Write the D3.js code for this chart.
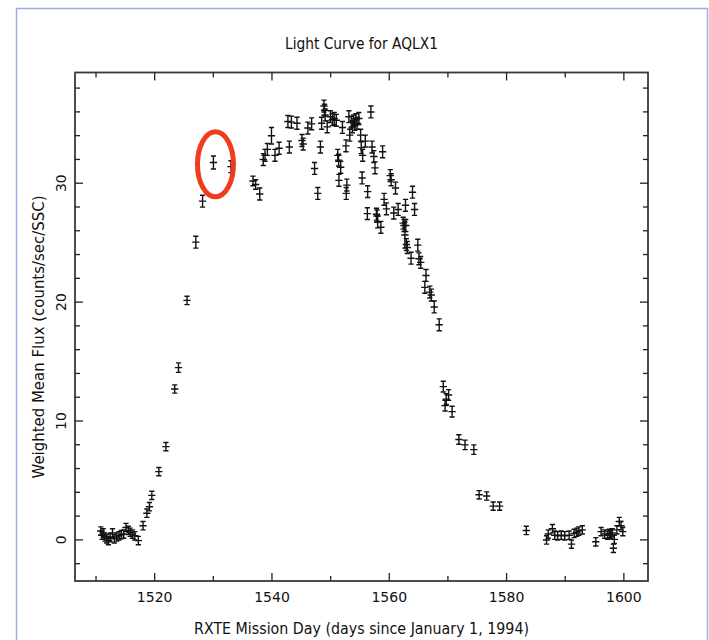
<!DOCTYPE html>
<html>
<head>
<meta charset="utf-8">
<script src="https://cdn.jsdelivr.net/npm/d3@7"></script>
<style>
  html, body { margin: 0; padding: 0; background: #fff; }
  svg { display: block; }
  text { font-family: "DejaVu Sans", "Liberation Sans", sans-serif; fill: #111; }
</style>
</head>
<body>
<svg id="chart" width="709" height="640"></svg>
<script>
// Aql X-1 outburst, RXTE/ASM daily light curve
const days = [
  1510.9, 1511.1, 1511.3, 1511.6, 1511.9, 1512.2, 1512.5, 1512.9, 1513.2, 1513.6,
  1514.0, 1514.4, 1514.8, 1515.2, 1515.6, 1515.9, 1516.3, 1516.7, 1517.3, 1518.1,
  1518.75, 1519.2, 1519.6, 1520.8, 1522.0, 1523.5, 1524.15, 1525.6, 1527.1, 1528.25,
  1530.1, 1533.1, 1536.85, 1537.3, 1538.0, 1538.6, 1538.9, 1539.3, 1540.0, 1540.6,
  1541.3, 1542.8, 1543.05, 1543.4, 1544.35, 1545.2, 1545.4, 1546.2, 1546.85, 1547.35,
  1547.9, 1548.35, 1548.55, 1548.95, 1549.05, 1549.15, 1549.5, 1550.05, 1550.4, 1550.7,
  1551.05, 1551.3, 1551.45, 1551.5, 1551.8, 1552.1, 1552.7, 1552.85, 1552.75, 1553.2,
  1553.35, 1553.6, 1553.8, 1554.0, 1554.2, 1554.4, 1554.6, 1554.9, 1555.2, 1555.3,
  1555.45, 1555.55, 1556.0, 1556.4, 1556.95, 1557.15, 1557.45, 1557.65, 1556.35, 1557.9,
  1558.0, 1558.1, 1558.65, 1558.95, 1559.2, 1559.6, 1560.25, 1560.4, 1560.85, 1561.15,
  1561.6, 1562.45, 1562.75, 1562.6, 1562.9, 1562.85, 1563.0, 1563.15, 1563.8, 1564.05,
  1564.4, 1564.95, 1565.15, 1565.45, 1566.35, 1566.15, 1567.0, 1567.25, 1567.75, 1568.6,
  1569.3, 1570.2, 1569.8, 1569.6, 1570.8, 1571.95, 1573.0, 1574.5, 1575.4, 1576.7,
  1577.8, 1578.9, 1583.45, 1586.9, 1587.2, 1587.9, 1588.3, 1588.8, 1589.4, 1590.0,
  1590.75, 1591.15, 1591.6, 1592.05, 1592.4, 1593.0, 1595.3, 1596.2, 1596.8, 1597.3,
  1597.6, 1597.85, 1598.1, 1598.3, 1598.45, 1598.9, 1599.3, 1599.6, 1599.9
];
const flux = [
  0.7, 0.35, 0.55, 0.2, 0.05, -0.1, 0.15, 0.55, 0.05, 0.2,
  0.3, 0.4, 0.45, 1.0, 0.75, 0.6, 0.45, 0.3, -0.1, 1.15,
  2.2, 2.75, 3.7, 5.7, 7.8, 12.65, 14.45, 20.1, 25.0, 28.45,
  31.7, 31.35, 30.15, 29.85, 29.05, 31.95, 32.3, 32.8, 33.95, 32.3,
  32.9, 35.15, 33.0, 35.1, 35.0, 33.55, 33.25, 34.6, 34.95, 31.2,
  29.1, 33.0, 35.0, 36.45, 36.1, 35.7, 34.7, 35.55, 35.3, 35.4,
  35.25, 32.3, 31.9, 30.2, 31.3, 34.65, 33.1, 29.8, 29.1, 35.55,
  34.0, 35.1, 34.7, 35.2, 34.9, 35.3, 35.0, 35.4, 34.0, 32.95,
  30.4, 32.3, 33.5, 29.25, 35.95, 33.0, 32.2, 31.25, 27.4, 27.35,
  27.2, 26.7, 26.25, 32.6, 28.6, 27.8, 30.6, 30.25, 27.45, 29.55,
  27.75, 26.6, 25.6, 26.4, 26.4, 28.1, 24.8, 24.55, 23.65, 29.2,
  27.75, 24.75, 23.6, 23.3, 22.2, 21.2, 20.8, 20.55, 19.55, 18.05,
  12.85, 12.15, 11.8, 11.25, 10.75, 8.4, 7.95, 7.55, 3.75, 3.65,
  2.8, 2.8, 0.75, -0.05, 0.45, 0.9, 0.35, 0.3, 0.35, 0.3,
  0.35, -0.4, 0.5, 0.6, 0.7, 0.8, -0.2, 0.65, 0.45, 0.35,
  0.5, 0.4, 0.55, -0.75, 0.0, 0.8, 1.5, 1.15, 0.65
];
const fluxErr = [
  0.35, 0.35, 0.35, 0.35, 0.35, 0.35, 0.35, 0.35, 0.35, 0.35,
  0.35, 0.35, 0.35, 0.35, 0.35, 0.35, 0.35, 0.35, 0.35, 0.35,
  0.35, 0.35, 0.35, 0.35, 0.35, 0.35, 0.4, 0.35, 0.5, 0.5,
  0.55, 0.5, 0.4, 0.4, 0.5, 0.5, 0.5, 0.5, 0.7, 0.5,
  0.5, 0.5, 0.5, 0.5, 0.5, 0.5, 0.5, 0.5, 0.5, 0.5,
  0.5, 0.5, 0.5, 0.5, 0.5, 0.5, 0.5, 0.5, 0.5, 0.5,
  0.5, 0.5, 0.5, 0.5, 0.5, 0.5, 0.5, 0.5, 0.5, 0.5,
  0.5, 0.5, 0.5, 0.5, 0.5, 0.5, 0.5, 0.5, 0.5, 0.5,
  0.5, 0.5, 0.5, 0.5, 0.5, 0.5, 0.5, 0.5, 0.5, 0.5,
  0.5, 0.5, 0.5, 0.5, 0.5, 0.5, 0.5, 0.5, 0.5, 0.5,
  0.5, 0.5, 1.1, 0.5, 0.5, 0.5, 0.5, 0.5, 0.5, 0.5,
  0.5, 0.5, 0.5, 0.5, 0.5, 0.5, 0.5, 0.5, 0.5, 0.5,
  0.45, 0.45, 0.45, 0.45, 0.45, 0.4, 0.4, 0.4, 0.35, 0.35,
  0.35, 0.35, 0.35, 0.35, 0.35, 0.35, 0.35, 0.35, 0.35, 0.35,
  0.35, 0.35, 0.35, 0.35, 0.35, 0.35, 0.35, 0.35, 0.35, 0.35,
  0.35, 0.35, 0.35, 0.35, 0.35, 0.35, 0.35, 0.35, 0.35
];
const binHalfWidth = 0.62;          // days, half width of each time bin

const xMajorTicks = [1520, 1540, 1560, 1580, 1600];
const xMinorTicks = [1510, 1530, 1550, 1570, 1590];
const yMajorTicks = [0, 10, 20, 30];
const yMinorTicks = [-2, 2, 4, 6, 8, 12, 14, 16, 18, 22, 24, 26, 28, 32, 34, 36, 38];

const xDomain = [1506.5, 1604.2];
const yDomain = [-3.5, 39.27];

const titleText = "Light Curve for AQLX1";
const xLabel = "RXTE Mission Day (days since January 1, 1994)";
const yLabel = "Weighted Mean Flux (counts/sec/SSC)";

// highlighted measurement
const markedDay = 1530.45, markedFlux = 31.55;

const svg = d3.select("#chart");

// page frame
svg.append("rect")
  .attr("x", 16.5).attr("y", 8.5)
  .attr("width", 691).attr("height", 660)
  .attr("fill", "#fff")
  .attr("stroke", "#9aabea").attr("stroke-width", 1.5);

const box = { left: 75, right: 648, top: 72.5, bottom: 581 };

const x = d3.scaleLinear().domain(xDomain).range([box.left, box.right]);
const y = d3.scaleLinear().domain(yDomain).range([box.bottom, box.top]);

const axisColor = "#222";

function styleAxis(g) {
  g.select(".domain").remove();
  g.selectAll(".tick line").attr("stroke", axisColor).attr("stroke-width", 1.3);
}

// frame of the plot area
svg.append("rect")
  .attr("x", box.left).attr("y", box.top)
  .attr("width", box.right - box.left).attr("height", box.bottom - box.top)
  .attr("fill", "none").attr("stroke", "#3a3a3a").attr("stroke-width", 1.8);

// bottom axis
const gBottom = svg.append("g").attr("transform", `translate(0,${box.bottom})`)
  .call(d3.axisBottom(x).tickValues(xMajorTicks).tickSizeInner(-8).tickSizeOuter(0)
    .tickPadding(11).tickFormat(d3.format("d")));
styleAxis(gBottom);
gBottom.selectAll(".tick text").attr("font-size", 14).attr("fill", "#111")
  .style("font-family", "'DejaVu Sans', sans-serif");
svg.append("g").attr("transform", `translate(0,${box.bottom})`)
  .call(d3.axisBottom(x).tickValues(xMinorTicks).tickSizeInner(-5).tickSizeOuter(0).tickFormat(""))
  .call(styleAxis);

// top axis (ticks only)
svg.append("g").attr("transform", `translate(0,${box.top})`)
  .call(d3.axisTop(x).tickValues(xMajorTicks).tickSizeInner(-8).tickSizeOuter(0).tickFormat(""))
  .call(styleAxis);
svg.append("g").attr("transform", `translate(0,${box.top})`)
  .call(d3.axisTop(x).tickValues(xMinorTicks).tickSizeInner(-5).tickSizeOuter(0).tickFormat(""))
  .call(styleAxis);

// left axis with vertical labels
const gLeft = svg.append("g").attr("transform", `translate(${box.left},0)`)
  .call(d3.axisLeft(y).tickValues(yMajorTicks).tickSizeInner(-8).tickSizeOuter(0)
    .tickFormat(d3.format("d")));
styleAxis(gLeft);
gLeft.selectAll(".tick text")
  .attr("transform", "rotate(-90)")
  .attr("x", 0).attr("y", -9).attr("dy", 0)
  .attr("text-anchor", "middle")
  .attr("font-size", 14).attr("fill", "#111");
svg.append("g").attr("transform", `translate(${box.left},0)`)
  .call(d3.axisLeft(y).tickValues(yMinorTicks).tickSizeInner(-5).tickSizeOuter(0).tickFormat(""))
  .call(styleAxis);

// right axis (ticks only)
svg.append("g").attr("transform", `translate(${box.right},0)`)
  .call(d3.axisRight(y).tickValues(yMajorTicks).tickSizeInner(-8).tickSizeOuter(0).tickFormat(""))
  .call(styleAxis);
svg.append("g").attr("transform", `translate(${box.right},0)`)
  .call(d3.axisRight(y).tickValues(yMinorTicks).tickSizeInner(-5).tickSizeOuter(0).tickFormat(""))
  .call(styleAxis);

// data with error bars
const points = days.map((d, i) => ({ day: d, flux: flux[i], err: fluxErr[i] }));
const capHalf = 2.6;
svg.append("g").attr("class", "points")
  .selectAll("path").data(points).join("path")
  .attr("d", p => {
    const cx = x(p.day), cy = y(p.flux);
    const x0 = x(p.day - binHalfWidth), x1 = x(p.day + binHalfWidth);
    const yt = y(p.flux + p.err), yb = y(p.flux - p.err);
    return `M${x0},${cy}H${x1}` +
           `M${cx},${yt}V${yb}` +
           `M${cx - capHalf},${yt}H${cx + capHalf}` +
           `M${cx - capHalf},${yb}H${cx + capHalf}`;
  })
  .attr("fill", "none")
  .attr("stroke", "#111")
  .attr("stroke-width", 1.4);

// highlight ring
svg.append("ellipse")
  .attr("cx", x(markedDay)).attr("cy", y(markedFlux))
  .attr("rx", 18).attr("ry", 32.5)
  .attr("fill", "none")
  .attr("stroke", "#f03c1e").attr("stroke-width", 5);

// titles
svg.append("text")
  .attr("x", 361.5).attr("y", 49)
  .attr("text-anchor", "middle")
  .attr("font-size", 15)
  .attr("textLength", 153).attr("lengthAdjust", "spacingAndGlyphs")
  .text(titleText);

svg.append("text")
  .attr("x", 361.5).attr("y", 634)
  .attr("text-anchor", "middle")
  .attr("font-size", 15)
  .attr("textLength", 335).attr("lengthAdjust", "spacingAndGlyphs")
  .text(xLabel);

svg.append("text")
  .attr("transform", "translate(44,337) rotate(-90)")
  .attr("text-anchor", "middle")
  .attr("font-size", 15)
  .attr("textLength", 283).attr("lengthAdjust", "spacingAndGlyphs")
  .text(yLabel);
</script>
</body>
</html>
